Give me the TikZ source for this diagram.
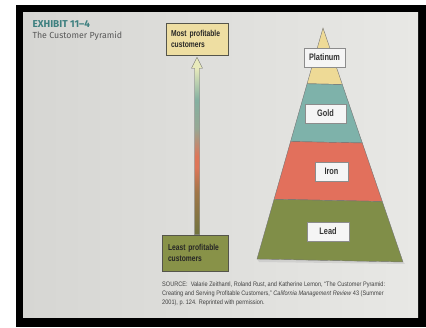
\documentclass[tikz,border=0pt]{standalone}
\usepackage{fontspec}
\setmainfont{Liberation Sans}
\newfontfamily\headfont{Fira Sans}
\newfontfamily\labelfont[FakeStretch=0.78]{Liberation Sans}
\newfontfamily\sourcefont[FakeStretch=0.86]{Liberation Sans}
\usetikzlibrary{calc, positioning}

\definecolor{page}{RGB}{232,232,229}
\definecolor{pagedark}{RGB}{214,214,211}
\definecolor{exhibitteal}{RGB}{62,128,128}
\definecolor{titlegray}{RGB}{88,88,88}
\definecolor{mostfill}{RGB}{238,222,162}
\definecolor{leastfill}{RGB}{136,146,72}
\definecolor{platfill}{RGB}{238,218,150}
\definecolor{goldfill}{RGB}{126,178,170}
\definecolor{ironfill}{RGB}{226,112,92}
\definecolor{leadfill}{RGB}{128,142,72}
\definecolor{boxline}{RGB}{85,85,75}
\definecolor{arrowolive}{RGB}{112,116,62}
\definecolor{arrowbrown}{RGB}{160,118,72}
\definecolor{arrowred}{RGB}{222,118,88}
\definecolor{arrowgray}{RGB}{150,168,148}
\definecolor{arrowteal}{RGB}{132,176,160}
\definecolor{arrowpale}{RGB}{232,234,188}

% profitability gradient along the arrow (bottom -> top)
\pgfdeclareverticalshading{profit}{100bp}{%
  color(0bp)=(arrowolive); color(25bp)=(arrowolive); color(37bp)=(arrowbrown);
  color(44bp)=(arrowred); color(47bp)=(arrowred); color(55bp)=(arrowgray);
  color(63bp)=(arrowteal); color(72bp)=(arrowpale); color(100bp)=(arrowpale)}

\begin{document}
\begin{tikzpicture}[x=1pt, y=-1pt,
  endbox/.style={draw=boxline, line width=0.5pt, inner xsep=5pt, align=left,
    text width=52pt, font=\labelfont\bfseries\fontsize{8.6}{11}\selectfont, text=black!85},
  tier/.style={draw=black!45, fill=white!96!black, line width=0.5pt, minimum height=19pt,
    inner sep=1pt, font=\labelfont\bfseries\fontsize{9.4}{10}\selectfont, text=black!80}]

\useasboundingbox (0,0) rectangle (426,328);

% photo frame and page
\fill[white] (0,0) rectangle (426,328);
\fill[black] (16,5) rectangle (426,327);
\shade[left color=pagedark, right color=page] (23,13) rectangle (418,318);

% heading
\node[anchor=west, text=exhibitteal, font=\headfont\bfseries\fontsize{10}{12}\selectfont]
  (exhibit) at (29,24) {EXHIBIT 11–4};
\node[anchor=west, text=titlegray, font=\headfont\fontsize{8.8}{11}\selectfont]
  (title) at (29,36.5) {The Customer Pyramid};

% --- profitability scale ---
\node[endbox, fill=mostfill, minimum height=32pt] (most) at (197,39)
  {Most profitable\\customers};
\node[endbox, fill=leastfill, inner xsep=6pt, text width=54pt, minimum height=36pt]
  (least) at (195,253) {Least profitable\\customers};

\shade[shading=profit, draw=black!60, line width=0.4pt]
  ($(least.north -| most.south)+(-2.5,0)$) -- ($(most.south)+(-2.5,13)$)
  -- ($(most.south)+(-5.5,13)$) -- ($(most.south)+(0,2)$) -- ($(most.south)+(5.5,13)$)
  -- ($(most.south)+(2.5,13)$) -- ($(least.north -| most.south)+(2.5,0)$) -- cycle;

% --- pyramid ---
\coordinate (apex) at (323,28);
\coordinate (bl) at (257,259);
\coordinate (br) at (403,262);

\fill[black!25, opacity=0.5] ($(br)+(2,2)$) -- ($(bl)+(2,3)$) -- ($(bl)+(0,0)$) -- (br) -- cycle;
\foreach \a/\b/\col in {0/0.2414/platfill, 0.2414/0.4914/goldfill,
                        0.4914/0.7414/ironfill, 0.7414/1/leadfill}{
  \filldraw[fill=\col, draw=black!55, line width=0.4pt]
    ($(apex)!\a!(bl)$) -- ($(apex)!\b!(bl)$) -- ($(apex)!\b!(br)$) -- ($(apex)!\a!(br)$) -- cycle;
}

\node[tier, minimum width=41pt] (platinum) at (324.5,57.5) {Platinum};
\node[tier, minimum width=41pt] (gold) at (325.5,113.5) {Gold};
\node[tier, minimum width=33pt] (iron) at (331.5,171.5) {Iron};
\node[tier, minimum width=42pt] (lead) at (328,231.5) {Lead};

% source note
\node[anchor=north west, align=left, inner sep=0pt, text=black!75,
  font=\sourcefont\fontsize{6.5}{9}\selectfont] (source) at (162,282)
  {SOURCE:\ \ Valarie Zeithaml, Roland Rust, and Katherine Lemon, “The Customer Pyramid:\\
   Creating and Serving Profitable Customers,” \textit{California Management Review} 43 (Summer\\
   2001), p.\ 124. Reprinted with permission.};

\end{tikzpicture}
\end{document}
